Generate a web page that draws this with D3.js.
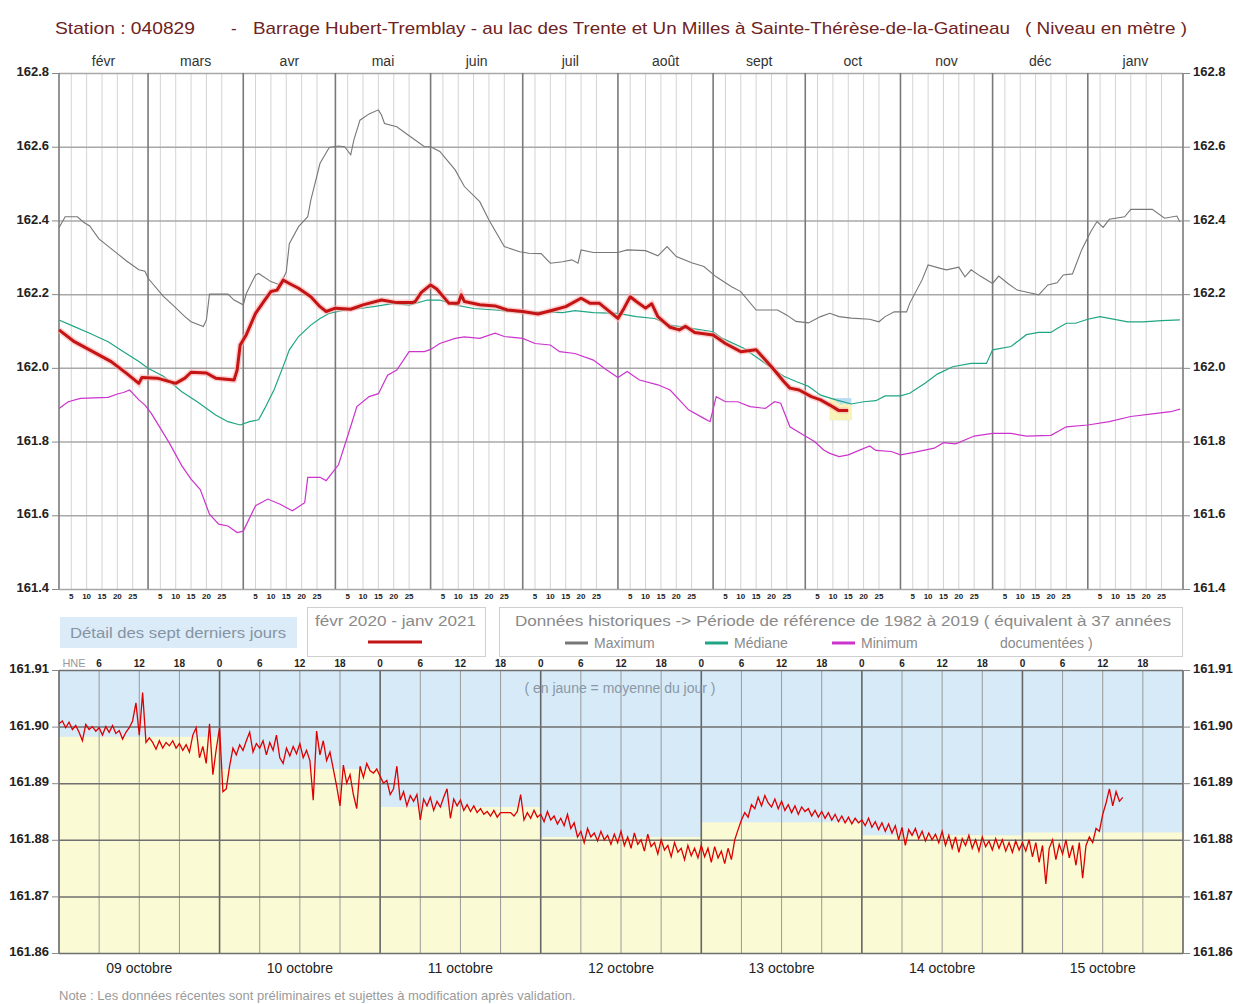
<!DOCTYPE html>
<html>
<head>
<meta charset="utf-8">
<script src="https://cdn.jsdelivr.net/npm/d3@7"></script>
<style>
body { margin: 0; background: #fff; }
svg { font-family: "Liberation Sans", Arial, sans-serif; }
</style>
</head>
<body>
<svg id="chart" width="1233" height="1004"></svg>
<script>
// ---- data ----
var monthLabels = ["févr", "mars", "avr", "mai", "juin", "juil", "août", "sept", "oct", "nov", "déc", "janv"]
var levelTicks = [161.4, 161.6, 161.8, 162.0, 162.2, 162.4, 162.6, 162.8]
var dayTicks = [5, 10, 15, 20, 25]

// [jour "MM-JJ", niveau] ; janv = 2021
var maxSeries = [["02-01",162.38],["02-03",162.41],["02-07",162.41],["02-09",162.395],["02-11",162.385],["02-14",162.35],["02-20",162.31],["02-23",162.29],["02-27",162.266],["02-29",162.262],["03-01",162.243],["03-06",162.194],["03-09",162.171],["03-13",162.139],["03-15",162.125],["03-19",162.112],["03-20",162.13],["03-21",162.2],["03-27",162.2],["03-29",162.184],["04-01",162.171],["04-02",162.202],["04-05",162.252],["04-06",162.256],["04-10",162.234],["04-13",162.225],["04-15",162.26],["04-16",162.337],["04-19",162.383],["04-22",162.41],["04-23",162.455],["04-26",162.555],["04-29",162.598],["05-02",162.602],["05-04",162.6],["05-06",162.578],["05-07",162.618],["05-09",162.672],["05-12",162.689],["05-15",162.7],["05-16",162.686],["05-17",162.663],["05-21",162.654],["05-24",162.636],["05-30",162.6],["06-01",162.6],["06-04",162.587],["06-09",162.537],["06-12",162.492],["06-17",162.451],["06-20",162.401],["06-25",162.329],["06-30",162.315],["07-03",162.311],["07-07",162.31],["07-10",162.284],["07-14",162.288],["07-17",162.293],["07-19",162.284],["07-20",162.32],["07-24",162.313],["08-01",162.313],["08-04",162.32],["08-10",162.318],["08-14",162.304],["08-17",162.329],["08-20",162.302],["08-25",162.285],["08-29",162.275],["09-02",162.247],["09-07",162.22],["09-10",162.207],["09-15",162.157],["09-22",162.157],["09-25",162.143],["09-28",162.126],["10-02",162.122],["10-06",162.139],["10-09",162.148],["10-12",162.139],["10-16",162.135],["10-22",162.132],["10-25",162.125],["10-27",162.139],["10-30",162.152],["11-03",162.152],["11-04",162.175],["11-08",162.238],["11-10",162.279],["11-14",162.27],["11-16",162.266],["11-20",162.273],["11-22",162.247],["11-24",162.266],["11-27",162.249],["12-01",162.229],["12-03",162.249],["12-06",162.229],["12-09",162.211],["12-13",162.204],["12-16",162.198],["12-19",162.225],["12-22",162.231],["12-24",162.252],["12-27",162.255],["12-30",162.32],["01-02",162.37],["01-04",162.397],["01-06",162.381],["01-08",162.403],["01-13",162.41],["01-15",162.43],["01-22",162.43],["01-26",162.406],["01-30",162.412],["01-31",162.396]]

var medSeries = [["02-01",162.13],["02-06",162.112],["02-11",162.094],["02-17",162.071],["02-22",162.044],["02-27",162.017],["03-01",161.999],["03-06",161.977],["03-12",161.935],["03-17",161.908],["03-23",161.872],["03-27",161.854],["03-31",161.845],["04-03",161.854],["04-06",161.859],["04-08",161.89],["04-11",161.94],["04-14",162.004],["04-16",162.049],["04-19",162.085],["04-23",162.116],["04-26",162.134],["04-29",162.148],["05-04",162.157],["05-09",162.161],["05-14",162.167],["05-20",162.175],["05-25",162.17],["05-31",162.184],["06-04",162.184],["06-09",162.171],["06-15",162.161],["06-22",162.157],["07-01",162.15],["07-08",162.152],["07-14",162.15],["07-18",162.155],["07-24",162.15],["08-01",162.148],["08-07",162.139],["08-13",162.134],["08-18",162.116],["08-25",162.107],["09-01",162.098],["09-04",162.08],["09-11",162.053],["09-18",162.012],["09-24",161.977],["09-28",161.963],["10-02",161.95],["10-06",161.926],["10-11",161.913],["10-16",161.902],["10-20",161.908],["10-24",161.911],["10-27",161.924],["11-01",161.924],["11-04",161.931],["11-09",161.958],["11-13",161.983],["11-18",162.003],["11-24",162.012],["11-29",162.012],["12-01",162.049],["12-07",162.058],["12-12",162.09],["12-16",162.096],["12-20",162.096],["12-22",162.107],["12-25",162.121],["12-28",162.121],["01-01",162.132],["01-05",162.139],["01-14",162.125],["01-19",162.125],["01-25",162.128],["01-31",162.13]]

var minSeries = [["02-01",161.89],["02-04",161.908],["02-08",161.917],["02-17",161.92],["02-20",161.929],["02-22",161.933],["02-24",161.94],["02-27",161.913],["02-29",161.899],["03-02",161.877],["03-04",161.85],["03-08",161.795],["03-12",161.734],["03-15",161.698],["03-18",161.67],["03-21",161.603],["03-24",161.576],["03-27",161.571],["03-30",161.553],["04-01",161.557],["04-05",161.626],["04-09",161.644],["04-13",161.63],["04-17",161.612],["04-21",161.634],["04-22",161.703],["04-26",161.703],["04-28",161.694],["05-02",161.737],["05-05",161.815],["05-08",161.895],["05-12",161.922],["05-15",161.93],["05-18",161.98],["05-21",161.994],["05-25",162.044],["05-30",162.044],["06-01",162.05],["06-04",162.066],["06-09",162.08],["06-12",162.084],["06-17",162.08],["06-22",162.094],["06-25",162.085],["07-01",162.08],["07-05",162.066],["07-10",162.062],["07-13",162.044],["07-18",162.039],["07-24",162.021],["07-28",161.996],["08-01",161.974],["08-04",161.99],["08-08",161.967],["08-14",161.954],["08-18",161.94],["08-24",161.886],["08-29",161.863],["08-31",161.854],["09-02",161.922],["09-05",161.908],["09-09",161.908],["09-13",161.895],["09-18",161.89],["09-21",161.908],["09-23",161.904],["09-26",161.84],["09-30",161.82],["10-04",161.8],["10-07",161.777],["10-09",161.768],["10-12",161.759],["10-15",161.764],["10-22",161.788],["10-24",161.776],["10-29",161.773],["11-01",161.764],["11-05",161.77],["11-12",161.782],["11-15",161.797],["11-19",161.794],["11-25",161.815],["12-01",161.822],["12-07",161.822],["12-12",161.815],["12-20",161.817],["12-25",161.84],["01-01",161.845],["01-08",161.854],["01-15",161.868],["01-22",161.875],["01-28",161.881],["01-31",161.888]]

var curSeries = [["02-01",162.103],["02-06",162.071],["02-12",162.044],["02-18",162.017],["02-23",161.985],["02-27",161.958],["02-28",161.974],["03-04",161.972],["03-10",161.958],["03-13",161.972],["03-15",161.988],["03-20",161.986],["03-23",161.972],["03-29",161.967],["03-30",161.994],["03-31",162.062],["04-02",162.09],["04-05",162.148],["04-08",162.184],["04-10",162.207],["04-12",162.211],["04-14",162.238],["04-16",162.229],["04-19",162.216],["04-23",162.193],["04-26",162.166],["04-28",162.153],["05-01",162.162],["05-06",162.159],["05-10",162.171],["05-16",162.184],["05-21",162.177],["05-26",162.177],["05-27",162.18],["05-29",162.205],["06-01",162.225],["06-03",162.214],["06-07",162.175],["06-10",162.175],["06-11",162.198],["06-12",162.18],["06-17",162.171],["06-22",162.168],["06-26",162.157],["07-01",162.153],["07-06",162.146],["07-11",162.157],["07-15",162.166],["07-20",162.189],["07-23",162.175],["07-26",162.175],["07-30",162.148],["08-01",162.134],["08-03",162.162],["08-05",162.193],["08-07",162.18],["08-10",162.162],["08-12",162.174],["08-14",162.139],["08-18",162.11],["08-21",162.103],["08-23",162.113],["08-26",162.096],["09-01",162.089],["09-05",162.066],["09-10",162.044],["09-15",162.049],["09-20",162.003],["09-24",161.963],["09-26",161.945],["09-29",161.94],["10-03",161.922],["10-06",161.913],["10-09",161.899],["10-12",161.884],["10-15",161.884]]

// détail des sept derniers jours : une valeur par demi-heure
var detailTicks = [161.86, 161.87, 161.88, 161.89, 161.90, 161.91]
var detailDays = ["09 octobre", "10 octobre", "11 octobre", "12 octobre", "13 octobre", "14 octobre", "15 octobre"]
var day09 = [161.9005,161.9010,161.8998,161.9008,161.8995,161.9002,161.8990,161.8975,161.9004,161.8995,161.9000,161.8992,161.8998,161.8985,161.9000,161.8990,161.9002,161.8988,161.8993,161.8978,161.8990,161.8998,161.9010,161.9042,161.8985,161.9060,161.8972,161.8980,161.8972,161.8960,161.8975,161.8962,161.8972,161.8966,161.8975,161.8962,161.8970,161.8958,161.8968,161.8955,161.8985,161.8998,161.8945,161.8965,161.8935,161.9005,161.8915,161.8960]
var day10 = [161.8998,161.8885,161.8890,161.8930,161.8962,161.8950,161.8968,161.8958,161.8975,161.8990,161.8955,161.8970,161.8962,161.8975,161.8950,161.8972,161.8958,161.8985,161.8945,161.8935,161.8962,161.8948,161.8965,161.8952,161.8970,161.8945,161.8958,161.8940,161.8870,161.8992,161.8950,161.8975,161.8940,161.8955,161.8925,161.8895,161.8860,161.8932,161.8900,161.8915,161.8880,161.8855,161.8930,161.8910,161.8935,161.8922,161.8918,161.8925]
var day11 = [161.8912,161.8900,161.8905,161.8880,161.8890,161.8930,161.8870,161.8885,161.8860,161.8878,161.8868,161.8880,161.8835,161.8872,161.8860,161.8875,161.8852,161.8868,161.8858,161.8875,161.8890,161.8838,161.8872,161.8860,161.8870,161.8852,161.8862,161.8850,161.8860,161.8848,161.8855,161.8845,161.8850,161.8842,161.8852,161.8840,161.8848,161.8848,161.8848,161.8848,161.8842,161.8850,161.8880,161.8835,161.8848,161.8838,161.8852,161.8840]
var day12 = [161.8845,161.8832,161.8850,161.8835,161.8842,161.8828,161.8838,161.8825,161.8845,161.8820,161.8830,161.8805,161.8815,161.8795,161.8820,161.8805,161.8812,161.8798,161.8815,161.8800,161.8808,161.8792,161.8810,161.8795,161.8815,161.8790,161.8805,161.8785,161.8812,161.8792,161.8800,161.8780,161.8810,161.8788,161.8795,161.8775,161.8800,161.8782,161.8790,161.8770,161.8795,161.8778,161.8785,161.8765,161.8790,161.8772,161.8785,161.8768]
var day13 = [161.8790,161.8770,161.8785,161.8760,161.8788,161.8768,161.8780,161.8758,161.8785,161.8765,161.8800,161.8818,161.8835,161.8848,161.8840,161.8862,161.8855,161.8875,161.8860,161.8878,161.8865,161.8858,161.8872,161.8855,161.8868,161.8852,161.8862,161.8848,161.8860,161.8845,161.8858,161.8850,161.8855,161.8842,161.8852,161.8840,161.8850,161.8838,161.8848,161.8835,161.8845,161.8832,161.8842,161.8830,161.8840,161.8828,161.8838,161.8830]
var day14 = [161.8835,161.8825,161.8838,161.8822,161.8832,161.8818,161.8830,161.8815,161.8828,161.8812,161.8825,161.8800,161.8822,161.8790,161.8818,161.8808,161.8820,161.8802,161.8815,161.8798,161.8812,161.8800,161.8810,161.8795,161.8815,161.8790,161.8808,161.8785,161.8805,161.8778,161.8802,161.8790,161.8808,161.8785,161.8800,161.8780,161.8805,161.8788,161.8798,161.8782,161.8802,161.8785,161.8800,161.8780,161.8795,161.8778,161.8798,161.8782]
var day15 = [161.8795,161.8780,161.8800,161.8770,161.8795,161.8760,161.8790,161.8722,161.8785,161.8800,161.8765,161.8792,161.8775,161.8800,161.8768,161.8790,161.8755,161.8795,161.8732,161.8790,161.8805,161.8795,161.8820,161.8815,161.8845,161.8865,161.8890,161.8860,161.8885,161.8868,161.8875]
var dailyMean = [161.8982, 161.8925, 161.8858, 161.8805, 161.8831, 161.8808, 161.8813]

// ---- scales ----
function parseDay(s) {
    var p = s.split("-")
    var m = +p[0]
    return new Date(m == 1 ? 2021 : 2020, m - 1, +p[1])
}
function toPoints(series) {
    return series.map(d => ({ t: parseDay(d[0]), v: d[1] }))
}

var svg = d3.select("#chart")
var left = 59, right = 1183

var x = d3.scaleTime().domain([new Date(2020, 1, 1), new Date(2021, 1, 1)]).range([left, right])
var y = d3.scaleLinear().domain([161.4, 162.8]).range([589, 73])

var xb = d3.scaleTime().domain([new Date(2020, 9, 9), new Date(2020, 9, 16)]).range([left, right])
var yb = d3.scaleLinear().domain([161.86, 161.91]).range([953, 670])

function styleLabels(g) {
    g.select(".domain").remove()
    g.selectAll("line").attr("stroke", "#888")
    g.selectAll("text").attr("font-size", 13).attr("font-weight", "bold").attr("fill", "#222")
        .attr("font-family", "Liberation Sans, Arial").attr("dy", "0.2em")
}

// ---- title ----
var title = svg.append("g").attr("fill", "#6e2222").attr("font-size", 17)
title.append("text").attr("x", 55).attr("y", 34).attr("textLength", 140).attr("lengthAdjust", "spacingAndGlyphs").text("Station : 040829")
title.append("text").attr("x", 231).attr("y", 34).text("-")
title.append("text").attr("x", 253).attr("y", 34).attr("textLength", 757).attr("lengthAdjust", "spacingAndGlyphs")
    .text("Barrage Hubert-Tremblay - au lac des Trente et Un Milles à Sainte-Thérèse-de-la-Gatineau")
title.append("text").attr("x", 1025).attr("y", 34).attr("textLength", 162).attr("lengthAdjust", "spacingAndGlyphs").text("( Niveau en mètre )")

// ---- graphique annuel ----
var months = d3.timeMonth.range(new Date(2020, 1, 1), new Date(2021, 1, 1))
var topG = svg.append("g")

// lignes des jours 5,10,...
months.forEach(m => {
    dayTicks.forEach(d => {
        var t = new Date(m.getFullYear(), m.getMonth(), d)
        topG.append("line").attr("x1", x(t)).attr("x2", x(t)).attr("y1", 73).attr("y2", 589)
            .attr("stroke", "#d4d4d4").attr("stroke-width", 1)
        topG.append("text").attr("x", x(t)).attr("y", 599).attr("text-anchor", "middle")
            .attr("font-size", 8).attr("font-weight", "bold").attr("fill", "#222").text(d)
    })
})

topG.append("g")
    .attr("transform", "translate(" + left + ",0)")
    .call(d3.axisLeft(y).tickValues(levelTicks).tickSize(-(right - left)).tickFormat(""))
    .call(g => g.select(".domain").remove())
    .call(g => g.selectAll("line").attr("stroke", "#a8a8a8").attr("stroke-width", 1.5))

months.concat([new Date(2021, 1, 1)]).forEach(m => {
    topG.append("line").attr("x1", x(m)).attr("x2", x(m)).attr("y1", 73).attr("y2", 589)
        .attr("stroke", "#7a7a7a").attr("stroke-width", 1.6)
})

// étiquettes de mois
months.forEach((m, i) => {
    var mid = new Date((m.getTime() + d3.timeMonth.offset(m, 1).getTime()) / 2)
    topG.append("text").attr("x", x(mid)).attr("y", 66).attr("text-anchor", "middle")
        .attr("font-size", 14).attr("fill", "#333").text(monthLabels[i])
})

// axes gauche et droite
var fmt1 = d3.format(".1f")
topG.append("g").attr("transform", "translate(" + left + ",0)")
    .call(d3.axisLeft(y).tickValues(levelTicks).tickSize(7).tickPadding(3).tickFormat(fmt1))
    .call(styleLabels)
topG.append("g").attr("transform", "translate(" + right + ",0)")
    .call(d3.axisRight(y).tickValues(levelTicks).tickSize(7).tickPadding(3).tickFormat(fmt1))
    .call(styleLabels)

// zone des sept derniers jours
var d0 = new Date(2020, 9, 9), d1 = new Date(2020, 9, 16)
topG.append("rect").attr("x", x(d0)).attr("width", x(d1) - x(d0))
    .attr("y", y(161.918)).attr("height", y(161.858) - y(161.918)).attr("fill", "#b9dcf3")
dailyMean.forEach((v, i) => {
    var a = d3.timeDay.offset(d0, i), b = d3.timeDay.offset(d0, i + 1)
    topG.append("rect").attr("x", x(a)).attr("width", x(b) - x(a) + 0.5)
        .attr("y", y(v + 0.02)).attr("height", y(161.858) - y(v + 0.02)).attr("fill", "#f8f3b6")
})

var line = d3.line().x(d => x(d.t)).y(d => y(d.v))

topG.append("path").datum(toPoints(maxSeries)).attr("d", line)
    .attr("fill", "none").attr("stroke", "#777").attr("stroke-width", 1.1)
topG.append("path").datum(toPoints(medSeries)).attr("d", line)
    .attr("fill", "none").attr("stroke", "#1fa584").attr("stroke-width", 1.2)
topG.append("path").datum(toPoints(minSeries)).attr("d", line)
    .attr("fill", "none").attr("stroke", "#cc33cc").attr("stroke-width", 1.2)
topG.append("path").datum(toPoints(curSeries)).attr("d", line)
    .attr("fill", "none").attr("stroke", "#ffb0b0").attr("stroke-width", 6).attr("stroke-opacity", 0.6)
topG.append("path").datum(toPoints(curSeries)).attr("d", line)
    .attr("fill", "none").attr("stroke", "#c41414").attr("stroke-width", 3).attr("stroke-linejoin", "round")

// ---- légende ----
var leg = svg.append("g").attr("font-size", 14).attr("fill", "#8a8a8a")
leg.append("rect").attr("x", 60).attr("y", 617).attr("width", 237).attr("height", 31).attr("fill", "#dcebf8")
leg.append("text").attr("x", 178).attr("y", 638).attr("text-anchor", "middle").attr("fill", "#8494a4")
    .attr("textLength", 216).attr("lengthAdjust", "spacingAndGlyphs").text("Détail des sept derniers jours")

leg.append("rect").attr("x", 307.5).attr("y", 607.5).attr("width", 178).attr("height", 49)
    .attr("fill", "#fff").attr("stroke", "#cfcfcf")
leg.append("text").attr("x", 315).attr("y", 626).attr("textLength", 161).attr("lengthAdjust", "spacingAndGlyphs").text("févr 2020 - janv 2021")
leg.append("line").attr("x1", 368).attr("x2", 422).attr("y1", 642).attr("y2", 642)
    .attr("stroke", "#c41414").attr("stroke-width", 3)

leg.append("rect").attr("x", 499.5).attr("y", 607.5).attr("width", 683).attr("height", 49)
    .attr("fill", "#fff").attr("stroke", "#cfcfcf")
leg.append("text").attr("x", 515).attr("y", 626).attr("textLength", 656).attr("lengthAdjust", "spacingAndGlyphs")
    .text("Données historiques -> Période de référence  de 1982 à 2019   ( équivalent à 37 années")
var legItems = [["Maximum", "#777", 565], ["Médiane", "#1fa584", 705], ["Minimum", "#cc33cc", 832]]
legItems.forEach(d => {
    leg.append("line").attr("x1", d[2]).attr("x2", d[2] + 23).attr("y1", 643).attr("y2", 643)
        .attr("stroke", d[1]).attr("stroke-width", 3)
    leg.append("text").attr("x", d[2] + 29).attr("y", 648).text(d[0])
})
leg.append("text").attr("x", 1000).attr("y", 648).text("documentées )")

// ---- détail (graphique du bas) ----
var bot = svg.append("g")
bot.append("rect").attr("x", left).attr("y", 670).attr("width", right - left).attr("height", 283).attr("fill", "#d6eaf8")
dailyMean.forEach((v, i) => {
    var a = d3.timeDay.offset(d0, i), b = d3.timeDay.offset(d0, i + 1)
    bot.append("rect").attr("x", xb(a)).attr("width", xb(b) - xb(a) + 0.5)
        .attr("y", yb(v)).attr("height", 953 - yb(v)).attr("fill", "#fafad4")
})

var hours = d3.timeHour.every(6).range(d0, d1)
hours.forEach(h => {
    var isDay = h.getHours() == 0
    bot.append("line").attr("x1", xb(h)).attr("x2", xb(h)).attr("y1", 670).attr("y2", 953)
        .attr("stroke", isDay ? "#666" : "#9a9a9a").attr("stroke-width", isDay ? 1.6 : 1)
})
bot.append("line").attr("x1", right).attr("x2", right).attr("y1", 670).attr("y2", 953)
    .attr("stroke", "#666").attr("stroke-width", 1.6)

bot.append("g").attr("transform", "translate(" + left + ",0)")
    .call(d3.axisLeft(yb).tickValues(detailTicks).tickSize(-(right - left)).tickFormat(""))
    .call(g => g.select(".domain").remove())
    .call(g => g.selectAll("line").attr("stroke", "#6f6f6f").attr("stroke-width", 1.5))

var fmt2 = d3.format(".2f")
bot.append("g").attr("transform", "translate(" + left + ",0)")
    .call(d3.axisLeft(yb).tickValues(detailTicks).tickSize(7).tickPadding(3).tickFormat(fmt2))
    .call(styleLabels)
bot.append("g").attr("transform", "translate(" + right + ",0)")
    .call(d3.axisRight(yb).tickValues(detailTicks).tickSize(7).tickPadding(3).tickFormat(fmt2))
    .call(styleLabels)

// heures en haut
hours.forEach((h, i) => {
    if (i == 0) return
    bot.append("text").attr("x", xb(h)).attr("y", 667).attr("text-anchor", "middle")
        .attr("font-size", 10).attr("font-weight", "bold").attr("fill", "#222").text(h.getHours())
})
bot.append("text").attr("x", 74).attr("y", 667).attr("text-anchor", "middle")
    .attr("font-size", 11).attr("fill", "#999").text("HNE")

bot.append("text").attr("x", 620).attr("y", 693).attr("text-anchor", "middle")
    .attr("font-size", 14).attr("fill", "#8a98a6").text("( en jaune = moyenne du jour )")

// série au pas de 30 min
var detail = []
;[day09, day10, day11, day12, day13, day14, day15].forEach((arr, i) => {
    arr.forEach((v, j) => {
        detail.push({ t: d3.timeMinute.offset(d3.timeDay.offset(d0, i), j * 30), v: v })
    })
})
var lineB = d3.line().x(d => xb(d.t)).y(d => yb(d.v))
bot.append("path").datum(detail).attr("d", lineB)
    .attr("fill", "none").attr("stroke", "#dd0000").attr("stroke-width", 1.3)

detailDays.forEach((lab, i) => {
    var mid = d3.timeHour.offset(d3.timeDay.offset(d0, i), 12)
    bot.append("text").attr("x", xb(mid)).attr("y", 973).attr("text-anchor", "middle")
        .attr("font-size", 14).attr("fill", "#222").text(lab)
})

svg.append("text").attr("x", 59).attr("y", 1000).attr("font-size", 13).attr("fill", "#9a9a9a")
    .text("Note : Les données récentes sont préliminaires et sujettes à modification après validation.")
</script>
</body>
</html>
